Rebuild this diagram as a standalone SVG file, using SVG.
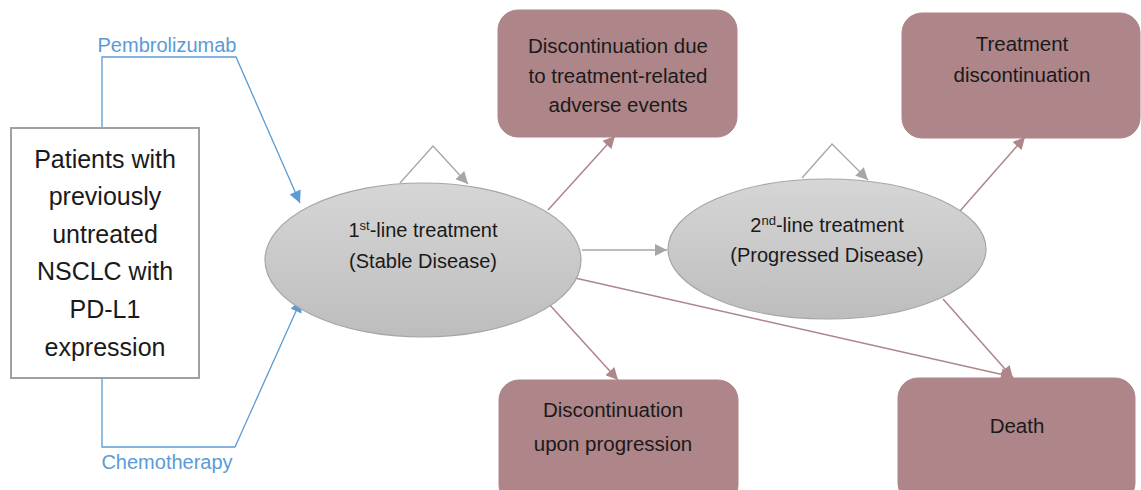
<svg xmlns="http://www.w3.org/2000/svg" width="1141" height="490" viewBox="0 0 1141 490">
<style>
text{font-family:"Liberation Sans",Arial,sans-serif;fill:#1a1a1a;text-anchor:middle}
.t{font-size:20px}
.b{font-size:20.5px}
.big{font-size:25px}
.lab{font-size:20px;fill:#5b9bd5}
.box{fill:#ae8589;stroke:#ae8589}
.ell{fill:url(#g);stroke:#a6a6a6;stroke-width:1.2}
.blue{fill:none;stroke:#5b9bd5;stroke-width:1.3}
.grey{fill:none;stroke:#a6a6a6;stroke-width:1.3}
.mauve{fill:none;stroke:#ae8589;stroke-width:1.5}
</style>
<defs>
<linearGradient id="g" x1="0" y1="0" x2="0" y2="1"><stop offset="0" stop-color="#d6d6d6"/><stop offset="1" stop-color="#bdbdbd"/></linearGradient>
<marker id="ab" viewBox="0 0 10 10" refX="10" refY="5" markerWidth="14" markerHeight="12" markerUnits="userSpaceOnUse" orient="auto"><path d="M0,0L10,5L0,10z" fill="#5b9bd5"/></marker>
<marker id="ag" viewBox="0 0 10 10" refX="10" refY="5" markerWidth="14" markerHeight="12" markerUnits="userSpaceOnUse" orient="auto"><path d="M0,0L10,5L0,10z" fill="#a6a6a6"/></marker>
<marker id="am" viewBox="0 0 10 10" refX="10" refY="5" markerWidth="14" markerHeight="12" markerUnits="userSpaceOnUse" orient="auto"><path d="M0,0L10,5L0,10z" fill="#ae8589"/></marker>
</defs>
<g id="connectors">
<polyline class="blue" points="102,128 102,57 236,57 300,203" marker-end="url(#ab)"/>
<polyline class="blue" points="102,378 102,447 235,447 301,300" marker-end="url(#ab)"/>
<polyline class="grey" points="400,183 433,146 468,184" marker-end="url(#ag)"/>
<polyline class="grey" points="802,178 832,144 868,180" marker-end="url(#ag)"/>
<line class="grey" x1="582" y1="250" x2="667" y2="250" marker-end="url(#ag)"/>
<line class="mauve" x1="548" y1="210" x2="615" y2="136" marker-end="url(#am)"/>
<line class="mauve" x1="548" y1="303" x2="618" y2="380" marker-end="url(#am)"/>
<line class="mauve" x1="575" y1="278" x2="1013" y2="377" marker-end="url(#am)"/>
<line class="mauve" x1="960" y1="211" x2="1025" y2="137" marker-end="url(#am)"/>
<line class="mauve" x1="943" y1="299" x2="1013" y2="378" marker-end="url(#am)"/>
<text class="lab" x="167" y="52">Pembrolizumab</text>
<text class="lab" x="167" y="469">Chemotherapy</text>
</g>
<g id="patients">
<rect x="11" y="128" width="188" height="250" fill="#fff" stroke="#a0a0a0" stroke-width="2"/>
<text class="big" x="105" y="168">Patients with</text>
<text class="big" x="105" y="205">previously</text>
<text class="big" x="105" y="243">untreated</text>
<text class="big" x="105" y="280">NSCLC with</text>
<text class="big" x="105" y="318">PD-L1</text>
<text class="big" x="105" y="356">expression</text>
</g>
<g id="first-line">
<ellipse class="ell" cx="423" cy="260" rx="158" ry="77"/>
<text class="t" x="423" y="237">1<tspan font-size="13" dy="-7">st</tspan><tspan dy="7">-line treatment</tspan></text>
<text class="t" x="423" y="268">(Stable Disease)</text>
</g>
<g id="second-line">
<ellipse class="ell" cx="827" cy="249" rx="159" ry="70"/>
<text class="t" x="827" y="232">2<tspan font-size="13" dy="-7">nd</tspan><tspan dy="7">-line treatment</tspan></text>
<text class="t" x="827" y="262">(Progressed Disease)</text>
</g>
<g id="disc-ae">
<rect class="box" x="498" y="10" width="239" height="127" rx="20"/>
<text class="b" x="618" y="53">Discontinuation due</text>
<text class="b" x="618" y="83">to treatment-related</text>
<text class="b" x="618" y="112">adverse events</text>
</g>
<g id="treat-disc">
<rect class="box" x="902" y="13" width="238" height="125" rx="20"/>
<text class="b" x="1022" y="51">Treatment</text>
<text class="b" x="1022" y="82">discontinuation</text>
</g>
<g id="disc-prog">
<rect class="box" x="499" y="380" width="239" height="125" rx="20"/>
<text class="b" x="613" y="417">Discontinuation</text>
<text class="b" x="613" y="451">upon progression</text>
</g>
<g id="death">
<rect class="box" x="898" y="378" width="237" height="125" rx="20"/>
<text class="b" x="1017" y="433">Death</text>
</g>
</svg>
